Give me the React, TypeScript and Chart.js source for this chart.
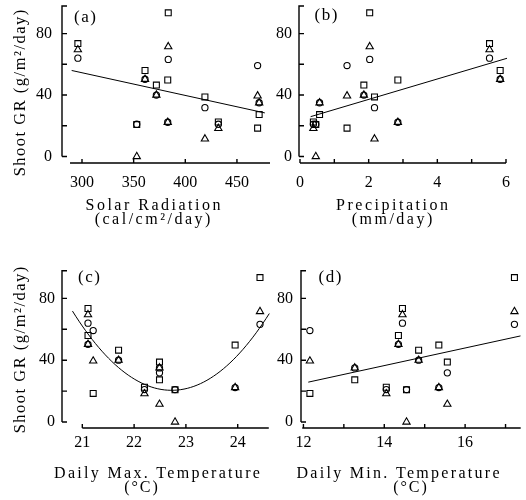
import { useEffect, useRef } from 'react';
import { Chart, registerables } from 'chart.js';

Chart.register(...registerables);

// ---- Data: 10 observations, three series (square, triangle, circle) per observation ----
const solarRadiation = [296, 383.5, 361, 372, 383, 419, 470, 471.5, 353, 432];
const precipitation = [5.52, 2.03, 5.83, 1.86, 2.85, 2.17, 1.37, 0.57, 0.46, 0.39];
const maxTemperature = [21.11, 24.43, 21.11, 21.7, 23.95, 22.49, 21.21, 22.49, 22.79, 22.2];
const minTemperature = [14.45, 17.22, 14.35, 14.85, 15.35, 15.56, 12.16, 13.27, 14.55, 14.05];

const growthSquare = [73.5, 93.5, 56, 46.5, 49.8, 38.8, 18.5, 27.3, 20.8, 22.5];
const growthTriangle = [69.5, 71.5, 50.3, 40, 22.3, 11.5, 39.5, 35, 0, 18.3];
const growthCircle = [64, 63.2, 50.3, 40, 22.3, 31.8, 59.2, 35, 21, 21];

// ---- Tick values / labels ----
const yTickValues = [0, 20, 40, 60, 80];
const yTickLabels = [0, 40, 80];
const solarTicks = [300, 350, 400, 450];
const solarLabels = [300, 350, 400, 450];
const precipTicks = [0, 1, 2, 3, 4, 5, 6];
const precipLabels = [0, 2, 4, 6];
const maxTTicks = [21, 22, 23, 24];
const maxTLabels = [21, 22, 23, 24];
const minTTicks = [12, 13, 14, 15, 16, 17];
const minTLabels = [12, 14, 16];

// ---- Fitted relations ----
const solarFit = { intercept: 98.8, slope: -0.1476, from: 290, to: 477 };
const precipFit = { intercept: 23.9, slope: 6.64, from: 0.31, to: 6.03 };
const maxTFit = { a: 13.99, h: 22.725, k: 20.5, from: 20.81, to: 24.61 };
const minTFit = { intercept: -43.3, slope: 5.7, from: 12.12, to: 17.37 };

const linearFit = (f: { intercept: number; slope: number; from: number; to: number }) =>
  [f.from, f.to].map((x) => ({ x, y: f.intercept + f.slope * x }));
const quadFit = (f: { a: number; h: number; k: number; from: number; to: number }) => {
  const n = 60;
  const pts: { x: number; y: number }[] = [];
  for (let i = 0; i <= n; i++) {
    const x = f.from + ((f.to - f.from) * i) / n;
    pts.push({ x, y: f.a * (x - f.h) * (x - f.h) + f.k });
  }
  return pts;
};

const SERIF = '"Liberation Serif", "DejaVu Serif", serif';

interface TextItem {
  text: string;
  x: number;
  y: number;
  size: number;
  spacing?: number;
  baseline?: CanvasTextBaseline;
  rotate?: number;
}

interface PanelCfg {
  key: string;
  left: number;
  top: number;
  w: number;
  h: number;
  pad: { left: number; top: number; right: number; bottom: number };
  yWidth: number;
  xHeight: number;
  xMin: number;
  xMax: number;
  xFrom: number;
  xTo: number;
  xTicks: number[];
  xLabels: number[];
  xTickPad: number;
  yMin: number;
  yMax: number;
  yTickPad: number;
  xValues: number[];
  fit: { x: number; y: number }[];
  texts: TextItem[];
}

const yTitle = 'Shoot GR (g/m²/day)';

const panels: PanelCfg[] = [
  {
    key: 'a', left: 0, top: 0, w: 280, h: 235,
    pad: { left: 0, top: 5, right: 10, bottom: 0 }, yWidth: 62, xHeight: 72,
    xMin: 280.64, xMax: 482, xFrom: 288.4, xTo: 482,
    xTicks: solarTicks, xLabels: solarLabels, xTickPad: 10,
    yMin: -4.2, yMax: 98.4, yTickPad: 10,
    xValues: solarRadiation, fit: linearFit(solarFit),
    texts: [
      { text: '(a)', x: 85, y: 17.5, size: 17, spacing: 1.5, baseline: 'middle' },
      { text: yTitle, x: 20.5, y: 93, size: 16.5, spacing: 1.5, baseline: 'middle', rotate: -Math.PI / 2 },
      { text: 'Solar Radiation', x: 153, y: 210, size: 16, spacing: 2.5 },
      { text: '(cal/cm²/day)', x: 152.5, y: 224, size: 16, spacing: 2.5 },
    ],
  },
  {
    key: 'b', left: 262, top: 0, w: 264, h: 235,
    pad: { left: 0, top: 5, right: 20, bottom: 0 }, yWidth: 37, xHeight: 72,
    xMin: -0.029, xMax: 6, xFrom: 0, xTo: 6,
    xTicks: precipTicks, xLabels: precipLabels, xTickPad: 10,
    yMin: -4.2, yMax: 98.4, yTickPad: 7,
    xValues: precipitation, fit: linearFit(precipFit),
    texts: [
      { text: '(b)', x: 64, y: 15.5, size: 17, spacing: 1.5, baseline: 'middle' },
      { text: 'Precipitation', x: 130, y: 210, size: 16, spacing: 2.5 },
      { text: '(mm/day)', x: 130, y: 224, size: 16, spacing: 2.5 },
    ],
  },
  {
    key: 'c', left: 0, top: 250, w: 280, h: 250,
    pad: { left: 0, top: 20, right: 11, bottom: 0 }, yWidth: 62, xHeight: 72,
    xMin: 20.608, xMax: 24.604, xFrom: 21, xTo: 24.6,
    xTicks: maxTTicks, xLabels: maxTLabels, xTickPad: 5,
    yMin: -3.9, yMax: 98.4, yTickPad: 7,
    xValues: maxTemperature, fit: quadFit(maxTFit),
    texts: [
      { text: '(c)', x: 89, y: 27.5, size: 17, spacing: 1.5, baseline: 'middle' },
      { text: yTitle, x: 20.5, y: 100, size: 16.5, spacing: 1.5, baseline: 'middle', rotate: -Math.PI / 2 },
      { text: 'Daily Max. Temperature', x: 157, y: 228, size: 16, spacing: 2.3 },
      { text: '(°C)', x: 141, y: 242, size: 16, spacing: 2 },
    ],
  },
  {
    key: 'd', left: 262, top: 250, w: 264, h: 250,
    pad: { left: 0, top: 20, right: 0, bottom: 0 }, yWidth: 39, xHeight: 72,
    xMin: 11.94, xMax: 17.375, xFrom: 11.97, xTo: 17.375,
    xTicks: minTTicks, xLabels: minTLabels, xTickPad: 5,
    yMin: -3.9, yMax: 98.4, yTickPad: 8,
    xValues: minTemperature, fit: linearFit(minTFit),
    texts: [
      { text: '(d)', x: 68, y: 28, size: 17, spacing: 1.5, baseline: 'middle' },
      { text: 'Daily Min. Temperature', x: 136, y: 228, size: 16, spacing: 2.3 },
      { text: '(°C)', x: 148, y: 242, size: 16, spacing: 2 },
    ],
  },
];

function drawFrame(chart: any, cfg: PanelCfg) {
  const { ctx, chartArea } = chart;
  const xs = chart.scales.x;
  const ys = chart.scales.y;
  ctx.save();
  ctx.strokeStyle = '#000';
  ctx.lineWidth = 1.4;
  ctx.lineCap = 'butt';
  ctx.beginPath();
  // y axis
  const yx = chartArea.left;
  const y0 = ys.getPixelForValue(0);
  const y1 = ys.getPixelForValue(cfg.yMax);
  ctx.moveTo(yx, y0);
  ctx.lineTo(yx, y1);
  for (const v of yTickValues) {
    const p = ys.getPixelForValue(v);
    ctx.moveTo(yx, p);
    ctx.lineTo(yx + 5, p);
  }
  ctx.moveTo(yx, y1 + 0.7);
  ctx.lineTo(yx + 5, y1 + 0.7);
  // x axis
  const xy = chartArea.bottom;
  ctx.moveTo(xs.getPixelForValue(cfg.xFrom), xy);
  ctx.lineTo(xs.getPixelForValue(cfg.xTo), xy);
  for (const v of cfg.xTicks) {
    const p = xs.getPixelForValue(v);
    ctx.moveTo(p, xy);
    ctx.lineTo(p, xy - 4);
  }
  ctx.stroke();
  // texts
  for (const t of cfg.texts) {
    ctx.save();
    ctx.font = `${t.size}px ${SERIF}`;
    ctx.fillStyle = '#000';
    ctx.textAlign = 'center';
    ctx.textBaseline = t.baseline ?? 'alphabetic';
    const sp = t.spacing ?? 0;
    (ctx as any).letterSpacing = `${sp}px`;
    ctx.translate(t.x, t.y);
    if (t.rotate) ctx.rotate(t.rotate);
    ctx.fillText(t.text, sp / 2, 0);
    ctx.restore();
  }
  ctx.restore();
}

function Panel({ cfg }: { cfg: PanelCfg }) {
  const ref = useRef<HTMLCanvasElement>(null);
  useEffect(() => {
    const mk = (ys: number[]) => cfg.xValues.map((x, i) => ({ x, y: ys[i] }));
    const marker = {
      borderColor: '#000',
      backgroundColor: 'rgba(0,0,0,0)',
      borderWidth: 1.1,
      showLine: false,
      clip: false as any,
    };
    const chart = new Chart(ref.current as HTMLCanvasElement, {
      type: 'scatter',
      data: {
        datasets: [
          {
            label: 'fit',
            data: cfg.fit,
            showLine: true,
            borderColor: '#000',
            borderWidth: 1,
            pointRadius: 0,
            tension: 0,
            clip: false as any,
          },
          { label: 'square', data: mk(growthSquare), pointStyle: 'rect', pointRadius: 4.2, ...marker },
          { label: 'triangle', data: mk(growthTriangle), pointStyle: 'triangle', pointRadius: 4.2, ...marker },
          { label: 'circle', data: mk(growthCircle), pointStyle: 'circle', pointRadius: 3.1, ...marker },
        ],
      },
      options: {
        animation: false,
        responsive: false,
        events: [],
        layout: { padding: cfg.pad },
        plugins: { legend: { display: false }, tooltip: { enabled: false }, title: { display: false } },
        scales: {
          x: {
            type: 'linear',
            min: cfg.xMin,
            max: cfg.xMax,
            bounds: 'data',
            grid: { display: false, drawTicks: false },
            border: { display: false },
            ticks: {
              padding: cfg.xTickPad,
              color: '#000',
              font: { family: SERIF, size: 16 },
              maxRotation: 0,
              autoSkip: false,
              callback: (v: any) => (cfg.xLabels.includes(Number(v)) ? String(v) : ''),
            },
            afterBuildTicks: (s: any) => {
              s.ticks = cfg.xTicks.map((value) => ({ value }));
            },
            afterFit: (s: any) => {
              s.height = cfg.xHeight;
              s.paddingLeft = 0;
              s.paddingRight = 0;
              s.paddingTop = 0;
              s.paddingBottom = 0;
            },
          },
          y: {
            type: 'linear',
            min: cfg.yMin,
            max: cfg.yMax,
            bounds: 'data',
            grid: { display: false, drawTicks: false },
            border: { display: false },
            ticks: {
              padding: cfg.yTickPad,
              color: '#000',
              font: { family: SERIF, size: 16 },
              autoSkip: false,
              callback: (v: any) => (yTickLabels.includes(Number(v)) ? String(v) : ''),
            },
            afterBuildTicks: (s: any) => {
              s.ticks = yTickValues.map((value) => ({ value }));
            },
            afterFit: (s: any) => {
              s.width = cfg.yWidth;
              s.paddingLeft = 0;
              s.paddingRight = 0;
              s.paddingTop = 0;
              s.paddingBottom = 0;
            },
          },
        },
      } as any,
      plugins: [
        {
          id: 'frame' + cfg.key,
          afterDatasetsDraw: (c: any) => drawFrame(c, cfg),
        },
      ],
    });
    return () => chart.destroy();
  }, [cfg]);
  return (
    <canvas
      ref={ref}
      width={cfg.w}
      height={cfg.h}
      style={{ position: 'absolute', left: cfg.left, top: cfg.top, width: cfg.w, height: cfg.h }}
    />
  );
}

export default function App() {
  return (
    <div style={{ position: 'absolute', left: 0, top: 0, width: 526, height: 500, background: '#fff', overflow: 'hidden' }}>
      {panels.map((p) => (
        <Panel key={p.key} cfg={p} />
      ))}
    </div>
  );
}
